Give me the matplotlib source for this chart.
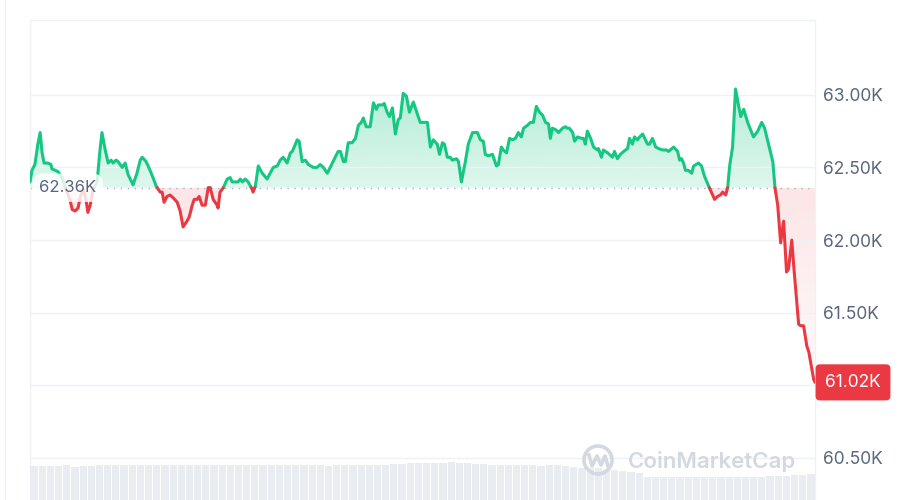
import numpy as np
import matplotlib
matplotlib.use('Agg')
import matplotlib.pyplot as plt
from matplotlib.path import Path
from matplotlib.patches import Circle

plt.rcParams['font.family'] = ['Inter', 'DejaVu Sans']

# price in thousands USD, time in hours over the last 24h
hours = [0.00, 0.06, 0.15, 0.24, 0.31, 0.37, 0.43, 0.55, 0.64, 0.67, 0.77, 0.86, 0.98, 1.10, 1.22,
         1.29, 1.38, 1.47, 1.53, 1.62, 1.71, 1.77, 1.84, 1.93, 2.05, 2.08, 2.14, 2.20, 2.30, 2.39,
         2.48, 2.54, 2.63, 2.69, 2.82, 2.91, 3.00, 3.15, 3.27, 3.37, 3.43, 3.55, 3.67, 3.76, 3.86,
         3.89, 3.98, 4.04, 4.10, 4.19, 4.28, 4.38, 4.50, 4.59, 4.68, 4.80, 4.87, 4.96, 5.02, 5.11,
         5.17, 5.26, 5.36, 5.45, 5.51, 5.60, 5.72, 5.75, 5.81, 5.91, 6.03, 6.12, 6.18, 6.27, 6.36,
         6.43, 6.49, 6.58, 6.67, 6.79, 6.82, 6.89, 6.98, 7.10, 7.25, 7.34, 7.44, 7.56, 7.65, 7.74,
         7.86, 7.96, 8.02, 8.17, 8.23, 8.32, 8.42, 8.51, 8.66, 8.78, 8.87, 8.97, 9.09, 9.18, 9.33,
         9.42, 9.49, 9.58, 9.64, 9.73, 9.85, 9.95, 10.04, 10.13, 10.19, 10.28, 10.40, 10.50, 10.59, 10.65,
         10.77, 10.83, 10.92, 10.99, 11.08, 11.17, 11.26, 11.32, 11.41, 11.51, 11.60, 11.72, 11.93, 12.09, 12.15,
         12.24, 12.33, 12.45, 12.52, 12.61, 12.67, 12.76, 12.85, 12.91, 13.04, 13.10, 13.19, 13.31, 13.40, 13.53,
         13.68, 13.77, 13.86, 13.92, 14.01, 14.14, 14.26, 14.32, 14.41, 14.47, 14.57, 14.66, 14.75, 14.84, 14.93,
         15.02, 15.09, 15.21, 15.30, 15.39, 15.48, 15.58, 15.67, 15.76, 15.85, 15.91, 15.97, 16.07, 16.16, 16.28,
         16.37, 16.43, 16.49, 16.59, 16.65, 16.74, 16.86, 16.92, 16.98, 17.04, 17.14, 17.23, 17.35, 17.38, 17.47,
         17.53, 17.66, 17.81, 17.87, 17.96, 18.05, 18.15, 18.27, 18.33, 18.42, 18.48, 18.57, 18.64, 18.73, 18.88,
         18.94, 19.03, 19.13, 19.22, 19.34, 19.46, 19.52, 19.68, 19.80, 19.86, 19.92, 19.98, 20.04, 20.13, 20.23,
         20.29, 20.44, 20.53, 20.62, 20.75, 20.87, 20.93, 21.02, 21.11, 21.18, 21.27, 21.33, 21.39, 21.48, 21.57,
         21.66, 21.73, 21.82, 21.94, 22.03, 22.12, 22.25, 22.37, 22.46, 22.58, 22.71, 22.77, 22.86, 22.95, 23.04,
         23.13, 23.19, 23.29, 23.35, 23.50, 23.56, 23.65, 23.75, 23.81, 23.96, 24.00]
price = [62.40, 62.48, 62.52, 62.66, 62.74, 62.60, 62.53, 62.53, 62.52, 62.49, 62.48, 62.47, 62.43, 62.35, 62.28,
         62.21, 62.20, 62.22, 62.29, 62.35, 62.28, 62.19, 62.24, 62.35, 62.40, 62.47, 62.62, 62.74, 62.62, 62.53,
         62.55, 62.53, 62.55, 62.54, 62.50, 62.53, 62.45, 62.38, 62.46, 62.55, 62.57, 62.54, 62.48, 62.43, 62.37,
         62.36, 62.33, 62.33, 62.26, 62.30, 62.31, 62.29, 62.26, 62.20, 62.09, 62.13, 62.16, 62.24, 62.28, 62.28,
         62.30, 62.24, 62.24, 62.36, 62.36, 62.28, 62.24, 62.22, 62.33, 62.36, 62.42, 62.43, 62.40, 62.40, 62.40,
         62.42, 62.40, 62.42, 62.40, 62.35, 62.33, 62.37, 62.51, 62.46, 62.42, 62.46, 62.50, 62.51, 62.55, 62.57,
         62.53, 62.60, 62.61, 62.69, 62.68, 62.54, 62.55, 62.52, 62.50, 62.50, 62.52, 62.50, 62.46, 62.50, 62.57,
         62.61, 62.61, 62.54, 62.54, 62.67, 62.67, 62.70, 62.79, 62.81, 62.84, 62.78, 62.78, 62.945, 62.90, 62.93,
         62.93, 62.94, 62.88, 62.85, 62.91, 62.73, 62.83, 62.84, 63.01, 62.99, 62.88, 62.95, 62.81, 62.81, 62.81,
         62.64, 62.69, 62.66, 62.59, 62.67, 62.66, 62.57, 62.57, 62.55, 62.56, 62.54, 62.40, 62.54, 62.66, 62.74,
         62.74, 62.69, 62.68, 62.59, 62.58, 62.59, 62.51, 62.52, 62.64, 62.62, 62.60, 62.70, 62.69, 62.70, 62.74,
         62.71, 62.77, 62.79, 62.81, 62.81, 62.92, 62.88, 62.86, 62.81, 62.80, 62.70, 62.77, 62.76, 62.74, 62.77,
         62.78, 62.77, 62.77, 62.74, 62.68, 62.71, 62.70, 62.70, 62.66, 62.75, 62.70, 62.64, 62.62, 62.63, 62.57,
         62.62, 62.60, 62.57, 62.61, 62.56, 62.59, 62.61, 62.63, 62.70, 62.66, 62.71, 62.69, 62.71, 62.73, 62.66,
         62.66, 62.70, 62.64, 62.63, 62.62, 62.62, 62.61, 62.64, 62.61, 62.55, 62.56, 62.53, 62.48, 62.48, 62.46,
         62.51, 62.53, 62.51, 62.44, 62.37, 62.31, 62.28, 62.30, 62.31, 62.33, 62.31, 62.36, 62.51, 62.64, 63.04,
         62.93, 62.85, 62.90, 62.81, 62.76, 62.71, 62.75, 62.81, 62.77, 62.66, 62.54, 62.37, 62.24, 61.98, 62.13,
         61.78, 61.80, 62.00, 61.82, 61.42, 61.41, 61.41, 61.27, 61.23, 61.04, 61.02]

# volume per 15 minutes (millions, estimated)
volume = [340, 345, 338, 342, 350, 335, 340, 345, 348,
          352, 348, 355, 350, 346, 352, 349, 355, 350, 347, 353, 350, 348,
          350, 352, 348, 355, 350, 346, 350, 353, 349, 351, 348, 352,
          347, 350, 345, 349, 352, 348, 346, 350, 351, 355, 360, 362,
          370, 372, 375, 368, 372, 378, 374, 370, 365, 360,
          352, 350, 348, 346, 350, 348, 345, 347, 350, 340, 335,
          325, 320, 318, 315, 300, 290, 280, 270,
          235, 230, 228, 232, 230, 226, 229, 233, 231, 228, 230, 232, 229, 231,
          234, 236, 240, 245, 250, 255, 258]

open_price = 62.36
yticks = [60.5, 61.0, 61.5, 62.0, 62.5, 63.0]

green = '#16c784'
red = '#ea3943'
grid_c = '#eff2f5'
text_c = '#58667e'
mark_c = '#d3d8e1'

t = np.array(hours)
p = np.array(price)

# add the points where the line crosses the open price so colors switch cleanly
tt, pp = [t[0]], [p[0]]
for i in range(1, len(t)):
    a, b = p[i - 1] - open_price, p[i] - open_price
    if a * b < 0:
        tt.append(t[i - 1] + (t[i] - t[i - 1]) * a / (a - b))
        pp.append(open_price)
    tt.append(t[i])
    pp.append(p[i])
tt = np.array(tt)
pp = np.array(pp)

fig = plt.figure(figsize=(9.01, 5.0), dpi=100)
fig.patch.set_facecolor('white')
L, W = 30 / 901, 785 / 901
ax = fig.add_axes([L, 0, W, 480 / 500])
ax.set_facecolor('none')

y0, y1 = 60.21, 63.515


def gradient_fill(mask, color, a_lo, a_hi, lo, hi):
    coll = ax.fill_between(tt, pp, open_price, where=mask, interpolate=True,
                           facecolor='none', edgecolor='none')
    path = Path.make_compound_path(*coll.get_paths())
    grad = np.zeros((256, 1, 4))
    grad[..., :3] = matplotlib.colors.to_rgb(color)
    grad[:, 0, 3] = np.linspace(a_lo, a_hi, 256)
    im = ax.imshow(grad, extent=[0, 24, lo, hi], origin='lower', aspect='auto', zorder=1)
    im.set_clip_path(path, transform=ax.transData)


gradient_fill(pp >= open_price, green, 0.14, 0.34, open_price, 63.1)
gradient_fill(pp <= open_price, red, 0.02, 0.13, 60.95, open_price)

ax.plot(tt, np.where(pp >= open_price, pp, np.nan), color=green, lw=2.2, zorder=3,
        solid_joinstyle='round', solid_capstyle='round')
ax.plot(tt, np.where(pp <= open_price, pp, np.nan), color=red, lw=2.2, zorder=3,
        solid_joinstyle='round', solid_capstyle='round')
ax.axhline(open_price, color='#a6b0c3', lw=1.0, ls=(0, (1, 4)), zorder=2)

ax.set_xlim(0, 24)
ax.set_ylim(y0, y1)
ax.set_xticks([])
ax.set_yticks(yticks)
# the 61.00K tick sits under the last-price tag
ax.set_yticklabels(['' if v == 61.0 else f'{v:.2f}K' for v in yticks])
ax.yaxis.tick_right()
ax.tick_params(axis='y', length=0, pad=6, labelsize=12.5, labelcolor=text_c)
ax.grid(axis='y', color=grid_c, lw=1.0, zorder=0)
for s in ['left', 'right', 'top']:
    ax.spines[s].set_color(grid_c)
    ax.spines[s].set_linewidth(1.0)
ax.spines['bottom'].set_visible(False)

# open price label
ax.text(0.0115, open_price, '62.36K', transform=ax.get_yaxis_transform(), ha='left', va='center',
        fontsize=12, color=text_c, zorder=5,
        bbox=dict(boxstyle='round,pad=0.4,rounding_size=0.6', fc='white', ec='none', alpha=0.82))

# last price label
ax.text(1.0484, price[-1], f'{price[-1]:.2f}K', transform=ax.get_yaxis_transform(), ha='center',
        va='center', fontsize=12.5, color='white', zorder=6, clip_on=False,
        bbox=dict(boxstyle='round,pad=0.55,rounding_size=0.25', fc=red, ec='none'))

# volume bars
axv = fig.add_axes([L, 0, W, 40 / 500])
axv.set_facecolor('none')
vt = np.arange(len(volume)) * 0.25 + 0.125
axv.bar(vt, volume, width=0.22, color='#e9ecf1', linewidth=0)
axv.set_xlim(0, 24)
axv.set_ylim(0, 400)
axv.axis('off')

# watermark (pixel coords, origin bottom-left)
fig.patches.append(Circle((598, 40), 14, transform=None, fill=False, ec=mark_c, lw=2.6))
fig.lines.append(plt.Line2D([589, 592, 597, 601, 605, 608], [45, 34, 44, 35, 44, 34],
                            transform=None, color=mark_c, lw=2.6))
fig.text(628 / 901, 1 - 462 / 500, 'CoinMarketCap', fontsize=16, fontweight='semibold',
         color=mark_c, ha='left', va='center')

# outer card edge
fig.lines.append(plt.Line2D([5, 5], [0, 500], transform=None, color=grid_c, lw=1.0))

fig.savefig('out.png', dpi=100)
